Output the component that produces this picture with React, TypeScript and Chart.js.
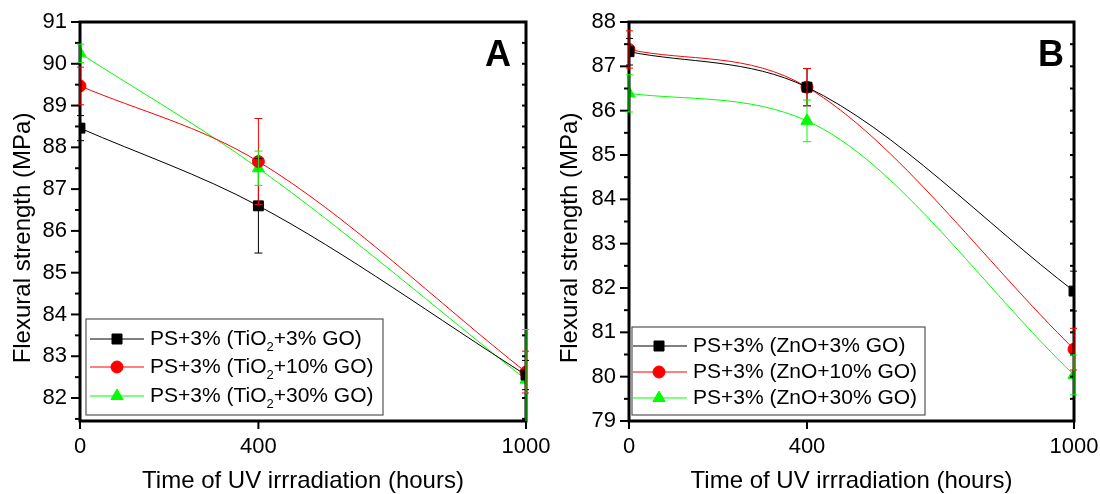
import React, { useEffect, useRef } from "react";
import { Chart, registerables } from "chart.js";

Chart.register(...registerables);

// ---------- DATA ----------
const hours = [0, 400, 1000];
const xTicks = [0, 400, 1000];

const seriesColors = ["#000000", "#ff0000", "#00ff00"];
const pointStyles = ["rect", "circle", "triangle"];

const labelsA = ["PS+3% (TiO₂+3% GO)", "PS+3% (TiO₂+10% GO)", "PS+3% (TiO₂+30% GO)"];
const valuesA_3GO = [88.46, 86.6, 82.55];
const valuesA_10GO = [89.47, 87.66, 82.62];
const valuesA_30GO = [90.25, 87.5, 82.44];
const errorsA_3GO = [0.3, 1.13, 0.35];
const errorsA_10GO = [0.45, 1.03, 0.5];
const errorsA_30GO = [0.22, 0.41, 1.2];
const yTicksA = [82, 83, 84, 85, 86, 87, 88, 89, 90, 91];

const labelsB = ["PS+3% (ZnO+3% GO)", "PS+3% (ZnO+10% GO)", "PS+3% (ZnO+30% GO)"];
const valuesB_3GO = [87.33, 86.53, 81.93];
const valuesB_10GO = [87.38, 86.53, 80.62];
const valuesB_30GO = [86.39, 85.77, 80.04];
const errorsB_3GO = [0.3, 0.42, 0.45];
const errorsB_10GO = [0.42, 0.42, 0.47];
const errorsB_30GO = [0.42, 0.47, 0.45];
const yTicksB = [79, 80, 81, 82, 83, 84, 85, 86, 87, 88];

const yTitle = "Flexural strength (MPa)";
const xTitle = "Time of UV irrradiation (hours)";

// ---------- LAYOUT ----------
const FONT = '"Liberation Sans", Arial, Helvetica, sans-serif';

type PanelCfg = {
  letter: string;
  labels: string[];
  values: number[][];
  errors: number[][];
  yTicks: number[];
  yMin: number;
  yMax: number;
  yAxisWidth: number;
  padRight: number;
  yTitleX: number;
  letterX: number;
  legend: { x: number; y: number; w: number; h: number; rows: number[]; lineX0: number; lineX1: number; markerX: number; textX: number };
};

const panelA: PanelCfg = {
  letter: "A",
  labels: labelsA,
  values: [valuesA_3GO, valuesA_10GO, valuesA_30GO],
  errors: [errorsA_3GO, errorsA_10GO, errorsA_30GO],
  yTicks: yTicksA,
  yMin: 81.45,
  yMax: 91,
  yAxisWidth: 80,
  padRight: 24,
  yTitleX: 23,
  letterX: 498,
  legend: { x: 86, y: 319, w: 297, h: 96, rows: [339, 367, 396], lineX0: 90, lineX1: 144, markerX: 117, textX: 150 },
};

const panelB: PanelCfg = {
  letter: "B",
  labels: labelsB,
  values: [valuesB_3GO, valuesB_10GO, valuesB_30GO],
  errors: [errorsB_3GO, errorsB_10GO, errorsB_30GO],
  yTicks: yTicksB,
  yMin: 79,
  yMax: 88,
  yAxisWidth: 79,
  padRight: 26,
  yTitleX: 20,
  letterX: 501,
  legend: { x: 82, y: 327, w: 293, h: 88, rows: [346, 372, 398], lineX0: 83, lineX1: 137, markerX: 109, textX: 143 },
};

function drawMarker(ctx: CanvasRenderingContext2D, style: string, x: number, y: number, color: string) {
  ctx.save();
  ctx.fillStyle = color;
  ctx.strokeStyle = color;
  ctx.lineWidth = 1;
  ctx.beginPath();
  if (style === "rect") {
    ctx.rect(x - 5, y - 5, 10, 10);
  } else if (style === "circle") {
    ctx.arc(x, y, 6, 0, Math.PI * 2);
  } else {
    const r = 7;
    ctx.moveTo(x, y - r);
    ctx.lineTo(x + r * 0.866, y + r * 0.5);
    ctx.lineTo(x - r * 0.866, y + r * 0.5);
    ctx.closePath();
  }
  ctx.fill();
  ctx.stroke();
  ctx.restore();
}

function drawSubText(ctx: CanvasRenderingContext2D, text: string, x: number, y: number, size: number) {
  const parts = text.split("₂");
  let cx = x;
  ctx.textAlign = "left";
  ctx.textBaseline = "middle";
  parts.forEach((p, i) => {
    ctx.font = `${size}px ${FONT}`;
    ctx.fillText(p, cx, y);
    cx += ctx.measureText(p).width;
    if (i < parts.length - 1) {
      ctx.font = `${Math.round(size * 0.62)}px ${FONT}`;
      ctx.fillText("2", cx, y + 8);
      cx += ctx.measureText("2").width;
    }
  });
}

function Panel({ cfg }: { cfg: PanelCfg }) {
  const ref = useRef<HTMLCanvasElement>(null);
  useEffect(() => {
    const canvas = ref.current!;
    const datasets = cfg.values.map((vals, i) => ({
      label: cfg.labels[i],
      data: hours.map((h, j) => ({ x: h, y: vals[j] })),
      borderColor: seriesColors[i],
      backgroundColor: seriesColors[i],
      borderWidth: 1,
      pointStyle: pointStyles[i],
      pointRadius: i === 0 ? 7 : i === 1 ? 6 : 7,
      pointBorderWidth: 1,
      cubicInterpolationMode: "monotone",
      clip: 0,
    }));

    const plugin = {
      id: "origin-style",
      afterDatasetsDraw(chart: any) {
        const { ctx, chartArea: a, scales } = chart;
        const xs = scales.x;
        const ys = scales.y;
        const line = (x0: number, y0: number, x1: number, y1: number) => {
          ctx.beginPath();
          ctx.moveTo(x0, y0);
          ctx.lineTo(x1, y1);
          ctx.stroke();
        };
        ctx.save();
        // frame
        ctx.strokeStyle = "#000";
        ctx.lineWidth = 3;
        ctx.strokeRect(a.left, a.top, a.right - a.left, a.bottom - a.top);
        // ticks
        ctx.lineWidth = 2;
        for (let v = Math.ceil(ys.min * 2) / 2; v <= ys.max + 1e-9; v += 0.5) {
          const y = ys.getPixelForValue(v);
          const major = Math.abs(v - Math.round(v)) < 1e-6;
          line(a.left - (major ? 9 : 5), y, a.left, y);
          line(a.right - 4, y, a.right, y);
        }
        for (const t of xTicks) {
          const x = xs.getPixelForValue(t);
          line(x, a.bottom, x, a.bottom + 8);
        }
        // error bars
        ctx.save();
        ctx.beginPath();
        ctx.rect(a.left - 3, a.top, a.right - a.left + 6, a.bottom - a.top);
        ctx.clip();
        ctx.lineWidth = 1;
        cfg.values.forEach((vals, i) => {
          ctx.strokeStyle = seriesColors[i];
          vals.forEach((v, j) => {
            const e = cfg.errors[i][j];
            const x = xs.getPixelForValue(hours[j]);
            const yHi = ys.getPixelForValue(v + e);
            const yLo = ys.getPixelForValue(v - e);
            line(x, yHi, x, yLo);
            line(x - 4, yHi, x + 4, yHi);
            line(x - 4, yLo, x + 4, yLo);
          });
        });
        ctx.restore();
        // legend
        const L = cfg.legend;
        ctx.fillStyle = "#fff";
        ctx.fillRect(L.x, L.y, L.w, L.h);
        ctx.strokeStyle = "#555";
        ctx.lineWidth = 1.2;
        ctx.strokeRect(L.x, L.y, L.w, L.h);
        cfg.labels.forEach((lab, i) => {
          const ry = L.rows[i];
          ctx.strokeStyle = seriesColors[i];
          ctx.lineWidth = 1;
          line(L.lineX0, ry, L.lineX1, ry);
          drawMarker(ctx, pointStyles[i], L.markerX, ry, seriesColors[i]);
          ctx.fillStyle = "#000";
          drawSubText(ctx, lab, L.textX, ry, 21);
        });
        // letter
        ctx.fillStyle = "#000";
        ctx.font = `bold 36px ${FONT}`;
        ctx.textAlign = "center";
        ctx.textBaseline = "middle";
        ctx.fillText(cfg.letter, cfg.letterX, 56);
        // axis titles
        ctx.font = `24px ${FONT}`;
        ctx.fillText(xTitle, (a.left + a.right) / 2, 481);
        ctx.save();
        ctx.translate(cfg.yTitleX, 238);
        ctx.rotate(-Math.PI / 2);
        ctx.fillText(yTitle, 0, 0);
        ctx.restore();
        ctx.restore();
      },
    };

    const chart = new Chart(canvas, {
      type: "line",
      data: { datasets: datasets as any },
      options: {
        animation: false,
        responsive: false,
        devicePixelRatio: 1,
        layout: { padding: { top: 22, right: cfg.padRight, left: 0, bottom: 0 } },
        plugins: { legend: { display: false }, tooltip: { enabled: false } },
        scales: {
          x: {
            type: "linear",
            min: 0,
            max: 1000,
            grid: { display: false, drawTicks: false },
            border: { display: false },
            ticks: {
              color: "#000",
              font: { family: FONT, size: 22 },
              padding: 13,
              maxRotation: 0,
              autoSkip: false,
              callback: (v: any) => String(v),
            },
            afterBuildTicks: (s: any) => {
              s.ticks = xTicks.map((v) => ({ value: v }));
            },
            afterFit: (s: any) => {
              s.height = 73;
              s.paddingLeft = 0;
              s.paddingRight = 0;
            },
          },
          y: {
            type: "linear",
            min: cfg.yMin,
            max: cfg.yMax,
            grid: { display: false, drawTicks: false },
            border: { display: false },
            ticks: { color: "#000", font: { family: FONT, size: 22 }, padding: 13, callback: (v: any) => String(v) },
            afterBuildTicks: (s: any) => {
              s.ticks = cfg.yTicks.map((v) => ({ value: v }));
            },
            afterFit: (s: any) => {
              s.width = cfg.yAxisWidth;
              s.paddingTop = 0;
              s.paddingBottom = 0;
            },
          },
        },
      } as any,
      plugins: [plugin],
    });
    return () => chart.destroy();
  }, [cfg]);
  return <canvas ref={ref} width={550} height={494} style={{ display: "block", width: 550, height: 494 }} />;
}

export default function App() {
  return (
    <div style={{ position: "fixed", left: 0, top: 0, width: 1100, height: 494, display: "flex", background: "#fff" }}>
      <Panel cfg={panelA} />
      <Panel cfg={panelB} />
    </div>
  );
}
